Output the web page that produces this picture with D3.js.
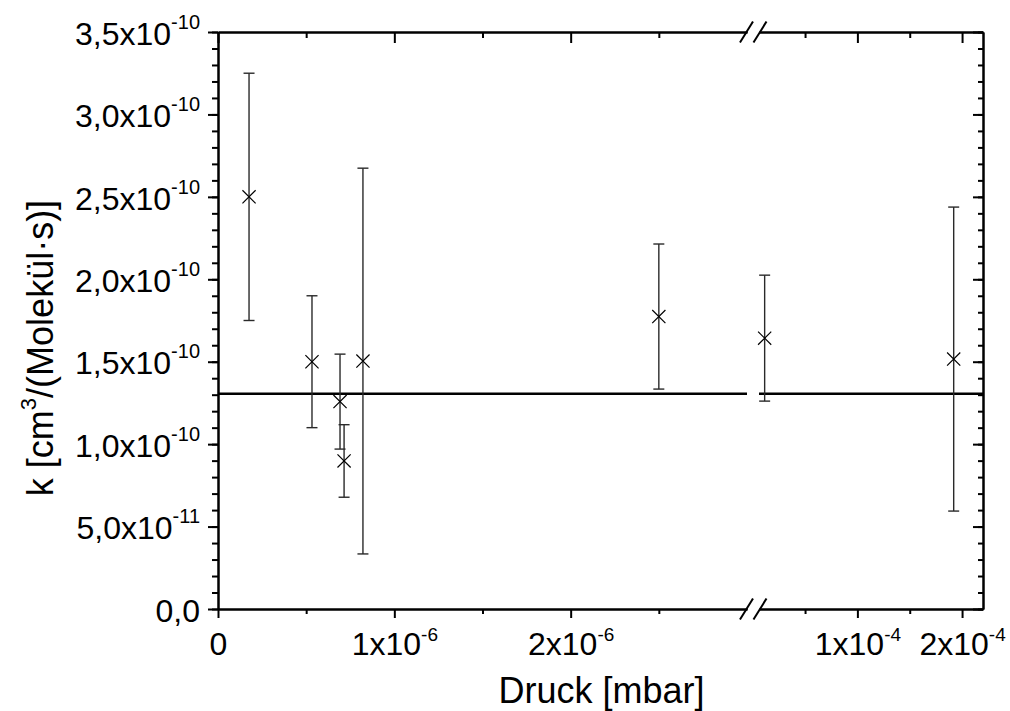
<!DOCTYPE html>
<html>
<head>
<meta charset="utf-8">
<title>k gegen Druck</title>
<script src="https://d3js.org/d3.v7.min.js"></script>
<style>
  body { margin: 0; background: #fff; }
  svg { font-family: "Liberation Sans", Arial, sans-serif; }
  .axis path, .axis line { stroke: #000; stroke-width: 2; }
  .err { stroke: #2a2a2a; stroke-width: 1.4; }
  .mark { stroke: #000; stroke-width: 1.2; }
</style>
</head>
<body>
<svg id="chart" width="1010" height="711"></svg>
<script>
// values
var pressure = [1.76e-7, 5.33e-7, 6.92e-7, 7.15e-7, 8.22e-7, 2.50e-6, 1.14e-5, 1.92e-4];
var rate     = [2.50e-10, 1.50e-10, 1.258e-10, 0.898e-10, 1.504e-10, 1.774e-10, 1.643e-10, 1.516e-10];
var rateErr  = [0.75e-10, 0.40e-10, 0.288e-10, 0.22e-10, 1.17e-10, 0.44e-10, 0.382e-10, 0.922e-10];
var fitK = 1.305e-10;

// axis ticks
var yTicks = [0, 5e-11, 1e-10, 1.5e-10, 2e-10, 2.5e-10, 3e-10, 3.5e-10];
var yTickLabels = ["0,0", "5,0x10^-11", "1,0x10^-10", "1,5x10^-10", "2,0x10^-10",
                   "2,5x10^-10", "3,0x10^-10", "3,5x10^-10"];
var yMinorTicks = d3.range(0, 36).map(function(i) { return i * 1e-11; });

var seg1Domain = [0, 3e-6];
var seg1Ticks = [0, 1e-6, 2e-6];
var seg1TickLabels = ["0", "1x10^-6", "2x10^-6"];
var seg1MinorTicks = [5e-7, 1.5e-6, 2.5e-6];

var seg2Domain = [6e-6, 2.2e-4];
var seg2Ticks = [1e-4, 2e-4];
var seg2TickLabels = ["1x10^-4", "2x10^-4"];
var seg2MinorTicks = [5e-5, 1.5e-4];

var plotLeft = 218, plotRight = 983, plotTop = 32, plotBottom = 609;

var svg = d3.select("#chart");

var y = d3.scaleLinear().domain([0, 3.5e-10]).range([plotBottom, plotTop]);
var x1 = d3.scaleLinear().domain(seg1Domain).range([plotLeft, 747]);
var x2 = d3.scaleLinear().domain(seg2Domain).range([759, plotRight]);

function xPos(p) { return p <= seg1Domain[1] ? x1(p) : x2(p); }

// split "1x10^-6" into base and superscript
function supText(sel, supSize, raise) {
    sel.selectAll(".tick text").each(function() {
        var parts = d3.select(this).text().split("^");
        var t = d3.select(this).text(null);
        t.append("tspan").text(parts[0]);
        if (parts[1]) t.append("tspan").attr("font-size", supSize).attr("dy", -raise).text(parts[1]);
    });
}

function styleAxis(g) {
    g.attr("class", "axis")
        .attr("font-size", 32)
        .attr("font-family", "'Liberation Sans', Arial, sans-serif");
    g.selectAll("text").attr("fill", "#000");
}

// y axes (left outward, right inward)
svg.append("g").attr("transform", "translate(" + plotLeft + ",0)")
    .call(d3.axisLeft(y).tickValues(yMinorTicks).tickSize(6).tickSizeOuter(0).tickFormat(""))
    .call(styleAxis);
var yAxisG = svg.append("g").attr("transform", "translate(" + plotLeft + ",0)")
    .call(d3.axisLeft(y).tickValues(yTicks).tickSize(10).tickSizeOuter(0).tickPadding(8)
        .tickFormat(function(d, i) { return yTickLabels[i]; }))
    .call(styleAxis);
yAxisG.selectAll(".tick text").attr("dy", "0.38em");
supText(yAxisG, 20, 16);

svg.append("g").attr("transform", "translate(" + plotRight + ",0)")
    .call(d3.axisLeft(y).tickValues(yMinorTicks).tickSize(5).tickSizeOuter(0).tickFormat(""))
    .call(styleAxis);
svg.append("g").attr("transform", "translate(" + plotRight + ",0)")
    .call(d3.axisLeft(y).tickValues(yTicks).tickSize(10).tickSizeOuter(0).tickFormat(""))
    .call(styleAxis);

// x axes, two segments, bottom outward with labels, top inward
[[x1, seg1Ticks, seg1TickLabels, seg1MinorTicks], [x2, seg2Ticks, seg2TickLabels, seg2MinorTicks]]
.forEach(function(s) {
    var sc = s[0];
    svg.append("g").attr("transform", "translate(0," + plotBottom + ")")
        .call(d3.axisBottom(sc).tickValues(s[3]).tickSize(5).tickSizeOuter(0).tickFormat(""))
        .call(styleAxis);
    var gb = svg.append("g").attr("transform", "translate(0," + plotBottom + ")")
        .call(d3.axisBottom(sc).tickValues(s[1]).tickSize(9).tickSizeOuter(0).tickPadding(14)
            .tickFormat(function(d, i) { return s[2][i]; }))
        .call(styleAxis);
    supText(gb, 19, 14);

    svg.append("g").attr("transform", "translate(0," + plotTop + ")")
        .call(d3.axisBottom(sc).tickValues(s[3]).tickSize(6).tickSizeOuter(0).tickFormat(""))
        .call(styleAxis);
    svg.append("g").attr("transform", "translate(0," + plotTop + ")")
        .call(d3.axisBottom(sc).tickValues(s[1]).tickSize(11).tickSizeOuter(0).tickFormat(""))
        .call(styleAxis);
});

// break marks
[plotTop, plotBottom].forEach(function(ay) {
    [x1.range()[1] - 0.5, x2.range()[0] + 1].forEach(function(cx) {
        svg.append("line")
            .attr("x1", cx - 6.5).attr("y1", ay + 10.5)
            .attr("x2", cx + 6.5).attr("y2", ay - 10.5)
            .attr("stroke", "#000").attr("stroke-width", 2);
    });
});

// fit line, also broken
[[x1, seg1Domain], [x2, seg2Domain]].forEach(function(s) {
    svg.append("line")
        .attr("x1", s[0](s[1][0])).attr("x2", s[0](s[1][1]))
        .attr("y1", y(fitK)).attr("y2", y(fitK))
        .attr("stroke", "#000").attr("stroke-width", 2.5);
});

// error bars
var pts = svg.append("g").selectAll("g")
    .data(pressure.map(function(p, i) { return { p: p, k: rate[i], e: rateErr[i] }; }))
    .enter().append("g");

pts.append("line").attr("class", "err")
    .attr("x1", function(d) { return xPos(d.p); })
    .attr("x2", function(d) { return xPos(d.p); })
    .attr("y1", function(d) { return y(d.k + d.e); })
    .attr("y2", function(d) { return y(d.k - d.e); });

[1, -1].forEach(function(sgn) {
    pts.append("line").attr("class", "err")
        .attr("x1", function(d) { return xPos(d.p) - 5.5; })
        .attr("x2", function(d) { return xPos(d.p) + 5.5; })
        .attr("y1", function(d) { return y(d.k + sgn * d.e); })
        .attr("y2", function(d) { return y(d.k + sgn * d.e); });
});

// cross markers
var sym = d3.symbol().type(d3.symbolX).size(115);
pts.append("path").attr("class", "mark")
    .attr("d", sym)
    .attr("fill", "none")
    .attr("transform", function(d) { return "translate(" + xPos(d.p) + "," + y(d.k) + ")"; });

// axis titles
svg.append("text")
    .attr("x", (plotLeft + plotRight) / 2 + 1).attr("y", 703)
    .attr("text-anchor", "middle").attr("font-size", 36)
    .text("Druck [mbar]");

var yt = svg.append("text")
    .attr("transform", "translate(53,348) rotate(-90)")
    .attr("text-anchor", "middle").attr("font-size", 36);
yt.append("tspan").text("k [cm");
yt.append("tspan").attr("font-size", 22).attr("dy", -17).text("3");
yt.append("tspan").attr("dy", 17).text("/(Molekül·s)]");
</script>
</body>
</html>
